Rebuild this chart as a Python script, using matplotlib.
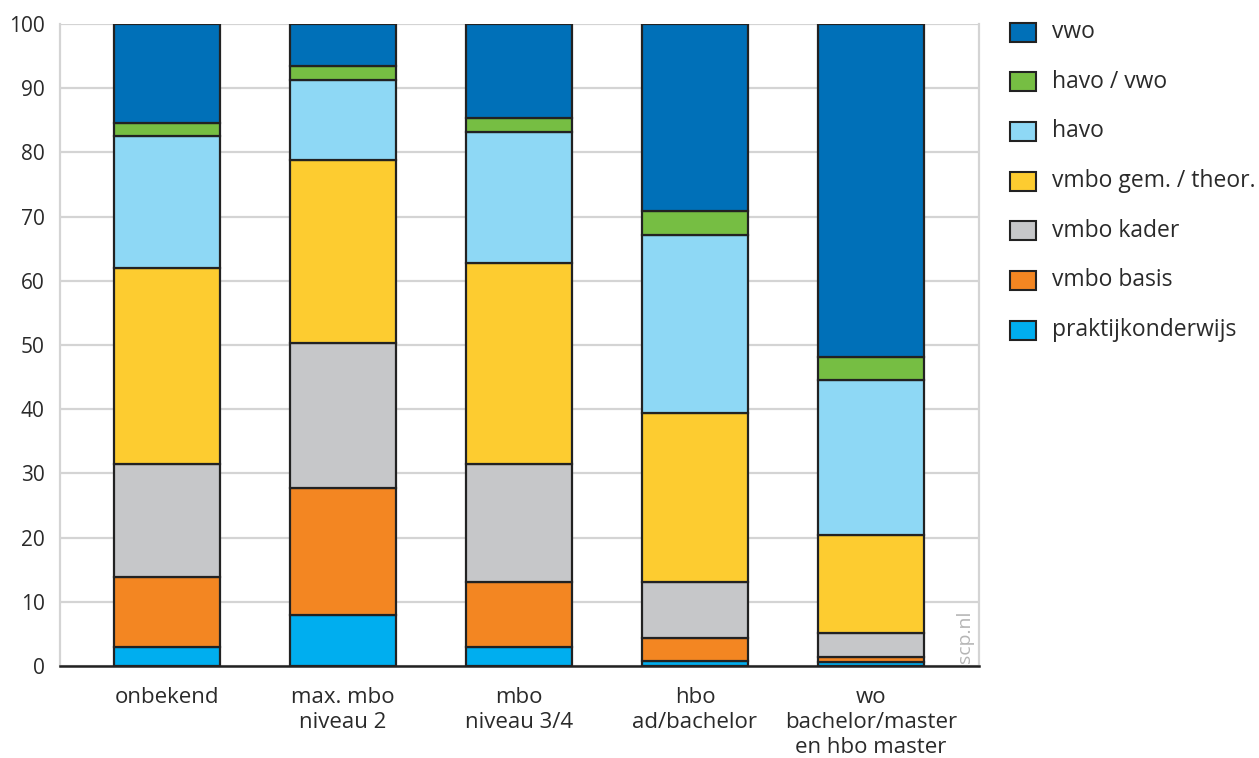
import numpy as np
import matplotlib.pyplot as plt

plt.rcParams['font.family'] = ['Open Sans', 'DejaVu Sans']

# categories (x axis) and school levels (stack order bottom -> top)
categories = ['onbekend', 'max. mbo\nniveau 2', 'mbo\nniveau 3/4',
              'hbo\nad/bachelor', 'wo\nbachelor/master\nen hbo master']
levels = ['praktijkonderwijs', 'vmbo basis', 'vmbo kader',
          'vmbo gem. / theor.', 'havo', 'havo / vwo', 'vwo']
colors = ['#00AEEF', '#F38622', '#C6C7C9', '#FDCC30',
          '#8ED8F5', '#76BE43', '#0070B8']

praktijk = [2.9, 8.0, 2.9, 0.8, 0.7]
vmbo_basis = [11.0, 19.7, 10.2, 3.6, 0.7]
vmbo_kader = [17.5, 22.6, 18.3, 8.7, 3.7]
vmbo_gt = [30.6, 28.5, 31.3, 26.3, 15.3]
havo = [20.5, 12.4, 20.4, 27.7, 24.1]
havo_vwo = [2.1, 2.2, 2.3, 3.7, 3.6]
vwo = [15.4, 6.6, 14.6, 29.2, 51.9]
series = [praktijk, vmbo_basis, vmbo_kader, vmbo_gt, havo, havo_vwo, vwo]

fig = plt.figure(figsize=(12.59, 7.58), dpi=100)
ax = fig.add_axes([60 / 1259, 1 - 666 / 758, 919 / 1259, 642 / 758])

x = np.arange(len(categories))
bottom = np.zeros(len(categories))
for vals, col, lab in zip(series, colors, levels):
    ax.bar(x, vals, bottom=bottom, width=0.6, color=col, edgecolor='#222222',
           linewidth=1.6, label=lab, zorder=3)
    bottom += np.array(vals)

ax.set_xlim(-0.608, 4.614)
ax.set_ylim(0, 100)
ax.set_yticks(range(0, 101, 10))
ax.grid(axis='y', color='#d4d4d4', linewidth=1.6, zorder=0)
ax.set_axisbelow(True)
for side in ['left', 'right', 'top']:
    ax.spines[side].set_color('#d4d4d4')
    ax.spines[side].set_linewidth(1.6)
ax.spines['top'].set_visible(False)
ax.spines['bottom'].set_color('#222222')
ax.spines['bottom'].set_linewidth(1.8)
ax.spines['bottom'].set_zorder(4)
ax.tick_params(length=0, labelsize=15, labelcolor='#2a2a2a')
ax.tick_params(axis='y', pad=11)
ax.tick_params(axis='x', pad=15)
ax.set_xticks(x)
ax.set_xticklabels(categories, fontsize=16, linespacing=1.25, va='top')

ax.text(0.985, 0.005, 'scp.nl', transform=ax.transAxes, rotation=90,
        ha='center', va='bottom', fontsize=14, color='#b5b5b5')

# legend, top entry is the top of the stack
for i, (lab, col) in enumerate(zip(levels[::-1], colors[::-1])):
    yc = 1 - (32 + i * 49.7) / 758
    fig.patches.append(plt.Rectangle((1010 / 1259, yc - 9.5 / 758), 26 / 1259, 19 / 758,
                                     transform=fig.transFigure, facecolor=col,
                                     edgecolor='#222222', linewidth=1.5))
    fig.text(1052 / 1259, yc, lab, fontsize=16.5, color='#2a2a2a', va='center', ha='left')

fig.savefig('out.png', dpi=100)
